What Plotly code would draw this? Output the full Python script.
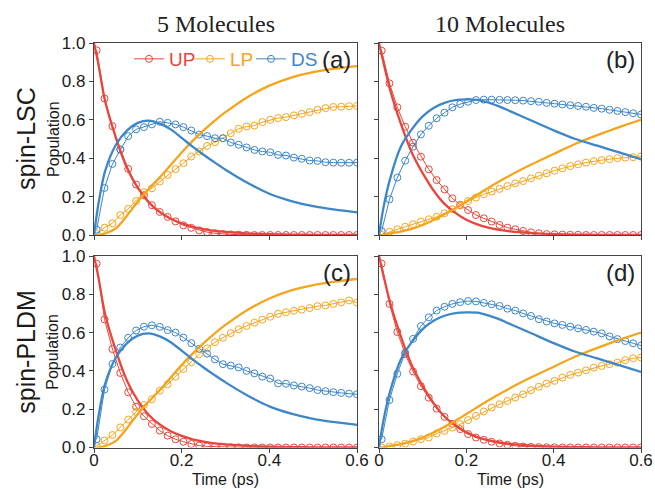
import numpy as np
import plotly.graph_objects as go

# ---------------- data ----------------
# exact (reference) results, solid lines
t_ref = [0, 0.01, 0.025, 0.05, 0.075, 0.1, 0.125, 0.15, 0.175, 0.2, 0.225, 0.25,
         0.275, 0.3, 0.35, 0.4, 0.45, 0.5, 0.55, 0.6]
ref5_UP = [1.0, 0.89, 0.70, 0.506, 0.35, 0.245, 0.17, 0.12, 0.085, 0.061, 0.043, 0.031,
           0.022, 0.016, 0.008, 0.004, 0.002, 0.001, 0.0, 0.0]
ref5_LP = [0.0, 0.0, 0.008, 0.035, 0.1, 0.175, 0.24, 0.3, 0.365, 0.43, 0.49, 0.545,
           0.595, 0.64, 0.718, 0.778, 0.82, 0.848, 0.866, 0.88]
ref5_DS = [0.0, 0.16, 0.33, 0.47, 0.544, 0.584, 0.596, 0.58, 0.55, 0.506, 0.46, 0.418,
           0.378, 0.34, 0.272, 0.215, 0.177, 0.15, 0.132, 0.118]
ref10_UP = [1.0, 0.9, 0.76, 0.58, 0.43, 0.322, 0.232, 0.162, 0.115, 0.079, 0.055, 0.038,
            0.027, 0.019, 0.01, 0.005, 0.002, 0.001, 0.0, 0.0]
ref10_LP = [0.0, 0.0, 0.008, 0.018, 0.032, 0.052, 0.078, 0.108, 0.14, 0.175, 0.21, 0.245,
            0.278, 0.31, 0.368, 0.422, 0.475, 0.52, 0.562, 0.6]
ref10_DS = [0.0, 0.14, 0.29, 0.46, 0.55, 0.618, 0.662, 0.688, 0.702, 0.706, 0.704, 0.69,
            0.67, 0.645, 0.595, 0.545, 0.5, 0.465, 0.43, 0.395]

# approximate (spin-mapping) results, circles
t_dot = np.linspace(0.006, 0.6, 34)
lsc5_UP = [0.962, 0.711, 0.567, 0.445, 0.344, 0.263, 0.207, 0.155, 0.12, 0.094,
           0.071, 0.05, 0.037, 0.024, 0.015, 0.009, 0.005, 0.003, 0.002, 0.001,
           0.0, 0.0, 0.0, 0.0, 0.0, 0.0, 0.0, 0.0, 0.0, 0.0, 0.0, 0.0, 0.0, 0.0]
lsc5_LP = [0.005, 0.038, 0.061, 0.104, 0.136, 0.177, 0.223, 0.243, 0.278, 0.313,
           0.343, 0.374, 0.409, 0.435, 0.464, 0.483, 0.504, 0.53, 0.553, 0.565,
           0.57, 0.588, 0.6, 0.609, 0.614, 0.623, 0.631, 0.64, 0.652, 0.661,
           0.667, 0.668, 0.671, 0.672]
lsc5_DS = [0.028, 0.245, 0.37, 0.445, 0.515, 0.55, 0.562, 0.576, 0.59, 0.584,
           0.576, 0.562, 0.544, 0.523, 0.515, 0.504, 0.504, 0.482, 0.47, 0.456,
           0.443, 0.435, 0.431, 0.417, 0.414, 0.403, 0.397, 0.388, 0.386, 0.379,
           0.377, 0.376, 0.376, 0.377]
lsc10_UP = [0.96, 0.79, 0.665, 0.564, 0.481, 0.408, 0.342, 0.286, 0.238, 0.191,
            0.157, 0.13, 0.104, 0.087, 0.07, 0.052, 0.038, 0.03, 0.021, 0.014,
            0.009, 0.005, 0.003, 0.002, 0.001, 0.001, 0.0, 0.0, 0.0, 0.0,
            0.0, 0.0, 0.0, 0.0]
lsc10_LP = [0.0, 0.017, 0.03, 0.043, 0.056, 0.07, 0.082, 0.095, 0.113, 0.134,
            0.153, 0.177, 0.195, 0.212, 0.226, 0.24, 0.255, 0.269, 0.281, 0.295,
            0.309, 0.321, 0.335, 0.347, 0.359, 0.368, 0.377, 0.385, 0.39, 0.395,
            0.4, 0.403, 0.405, 0.408]
lsc10_DS = [0.02, 0.186, 0.299, 0.387, 0.46, 0.524, 0.569, 0.608, 0.637, 0.665,
            0.682, 0.694, 0.703, 0.705, 0.705, 0.704, 0.703, 0.702, 0.7, 0.697,
            0.694, 0.688, 0.684, 0.68, 0.676, 0.672, 0.668, 0.662, 0.658, 0.652,
            0.646, 0.64, 0.634, 0.628]
pldm5_UP = [0.96, 0.669, 0.514, 0.389, 0.288, 0.213, 0.163, 0.123, 0.088, 0.062,
            0.043, 0.03, 0.018, 0.01, 0.006, 0.004, 0.002, 0.001, 0.001, 0.0,
            0.0, 0.0, 0.0, 0.0, 0.0, 0.0, 0.0, 0.0, 0.0, 0.0, 0.0, 0.0, 0.0, 0.0]
pldm5_LP = [0.008, 0.037, 0.065, 0.105, 0.146, 0.186, 0.222, 0.252, 0.296, 0.33,
            0.37, 0.41, 0.445, 0.487, 0.518, 0.55, 0.573, 0.597, 0.617, 0.635,
            0.652, 0.668, 0.683, 0.698, 0.706, 0.714, 0.72, 0.728, 0.738, 0.742,
            0.75, 0.758, 0.768, 0.757]
pldm5_DS = [0.043, 0.303, 0.436, 0.522, 0.573, 0.611, 0.631, 0.638, 0.63, 0.613,
            0.6, 0.574, 0.545, 0.515, 0.49, 0.46, 0.435, 0.428, 0.418, 0.4,
            0.387, 0.37, 0.36, 0.335, 0.333, 0.324, 0.318, 0.31, 0.3, 0.294,
            0.289, 0.285, 0.281, 0.278]
pldm10_UP = [0.96, 0.75, 0.603, 0.488, 0.397, 0.32, 0.26, 0.203, 0.16, 0.124,
             0.096, 0.07, 0.052, 0.04, 0.03, 0.021, 0.014, 0.009, 0.005, 0.003,
             0.002, 0.001, 0.001, 0.0, 0.0, 0.0, 0.0, 0.0, 0.0, 0.0,
             0.0, 0.0, 0.0, 0.0]
pldm10_LP = [0.0, 0.005, 0.012, 0.02, 0.031, 0.043, 0.052, 0.073, 0.087, 0.104,
             0.122, 0.143, 0.165, 0.188, 0.209, 0.226, 0.243, 0.261, 0.278, 0.299,
             0.317, 0.334, 0.348, 0.365, 0.379, 0.391, 0.403, 0.417, 0.426, 0.435,
             0.443, 0.456, 0.466, 0.47]
pldm10_DS = [0.043, 0.248, 0.385, 0.495, 0.567, 0.634, 0.68, 0.715, 0.735, 0.75,
             0.759, 0.765, 0.763, 0.755, 0.748, 0.739, 0.725, 0.715, 0.7, 0.687,
             0.67, 0.658, 0.648, 0.64, 0.631, 0.622, 0.614, 0.605, 0.596, 0.58,
             0.566, 0.556, 0.544, 0.532]

states = ["UP", "LP", "DS"]
col_titles = ["5 Molecules", "10 Molecules"]
row_titles = ["spin-LSC", "spin-PLDM"]
panel_labels = ["(a)", "(b)", "(c)", "(d)"]
x_ticks = [0, 0.2, 0.4, 0.6]
x_ticklabels = ["0", "0.2", "0.4", "0.6"]
y_ticks = [0, 0.2, 0.4, 0.6, 0.8, 1.0]
y_ticklabels = ["0.0", "0.2", "0.4", "0.6", "0.8", "1.0"]

# ---------------- style ----------------
colors = {"UP": "#E8463C", "LP": "#F4A51E", "DS": "#3D86C8"}
W, H = 655, 489
xdom = [(94 / W, 357 / W), (379 / W, 641 / W)]
ydom = [(1 - 235 / H, 1 - 43 / H), (1 - 447.5 / H, 1 - 256 / H)]
SANS = "Liberation Sans, Arial, Helvetica, sans-serif"
SERIF = "Liberation Serif, Times New Roman, serif"

panels = [
    (0, 0, (ref5_UP, ref5_LP, ref5_DS), (lsc5_UP, lsc5_LP, lsc5_DS)),
    (0, 1, (ref10_UP, ref10_LP, ref10_DS), (lsc10_UP, lsc10_LP, lsc10_DS)),
    (1, 0, (ref5_UP, ref5_LP, ref5_DS), (pldm5_UP, pldm5_LP, pldm5_DS)),
    (1, 1, (ref10_UP, ref10_LP, ref10_DS), (pldm10_UP, pldm10_LP, pldm10_DS)),
]

fig = go.Figure()
layout = dict(
    width=W, height=H, autosize=False,
    margin=dict(l=0, r=0, t=0, b=0, pad=0, autoexpand=False),
    paper_bgcolor="white", plot_bgcolor="white",
    font=dict(family=SANS, size=17, color="#1a1a1a"),
    showlegend=True,
)

annotations = []
for k, (r, c, ref, dots) in enumerate(panels):
    ax = "" if k == 0 else str(k + 1)
    xa, ya = "x" + ax, "y" + ax
    for s, ydot in zip(states, dots):
        fig.add_trace(go.Scatter(
            x=t_dot, y=ydot, xaxis=xa, yaxis=ya, mode="lines+markers",
            line=dict(color=colors[s], width=1),
            marker=dict(symbol="circle-open", size=7, color=colors[s],
                        line=dict(width=1, color=colors[s])),
            name=f"<span style='color:{colors[s]}'>{s}</span>",
            showlegend=(k == 0), legendgroup=s,
        ))
    for s, yref_vals in zip(states, ref):
        fig.add_trace(go.Scatter(
            x=t_ref, y=yref_vals, xaxis=xa, yaxis=ya, mode="lines",
            line=dict(color=colors[s], width=2.3, shape="spline", smoothing=0.8),
            showlegend=False, hoverinfo="skip",
        ))
    axis_common = dict(
        showline=True, mirror=True, linecolor="#444", linewidth=1.2,
        ticks="outside", ticklen=4, tickcolor="#444", showgrid=False,
        zeroline=False, automargin=False,
        tickfont=dict(size=17, family=SANS, color="#1a1a1a"),
    )
    layout["xaxis" + ax] = dict(
        axis_common, domain=xdom[c], range=[0, 0.6], anchor=ya,
        tickvals=x_ticks, ticktext=x_ticklabels, showticklabels=(r == 1),
        ticklabelstandoff=-7,
    )
    layout["yaxis" + ax] = dict(
        axis_common, domain=ydom[r], range=[0, 1.0], anchor=xa,
        tickvals=y_ticks, ticktext=y_ticklabels, showticklabels=(c == 0),
    )
    annotations.append(dict(
        text=panel_labels[k], xref=xa + " domain", yref=ya + " domain",
        x=0.985, y=0.995, xanchor="right", yanchor="top", showarrow=False,
        font=dict(size=24, family=SANS, color="#222"),
    ))

# invisible spacer legend entry so the last legend label is not clipped
fig.add_trace(go.Scatter(
    x=[None], y=[None], mode="markers", marker=dict(opacity=0), name=" ",
    visible="legendonly", showlegend=True, hoverinfo="skip",
))

for c, title in enumerate(col_titles):
    annotations.append(dict(
        text=title, xref="paper", yref="paper",
        x=(xdom[c][0] + xdom[c][1]) / 2 - 10 / W, y=1 - 24 / H,
        xanchor="center", yanchor="middle", showarrow=False,
        font=dict(size=24, family=SERIF, color="#222"),
    ))
for r, title in enumerate(row_titles):
    yc = (ydom[r][0] + ydom[r][1]) / 2
    annotations.append(dict(
        text=title, xref="paper", yref="paper", x=26 / W, y=yc,
        xanchor="center", yanchor="middle", textangle=-90, showarrow=False,
        font=dict(size=25, family=SANS, color="#1a1a1a"),
    ))
    annotations.append(dict(
        text="Population", xref="paper", yref="paper", x=53 / W, y=yc,
        xanchor="center", yanchor="middle", textangle=-90, showarrow=False,
        font=dict(size=16, family=SANS, color="#1a1a1a"),
    ))
for c in range(2):
    annotations.append(dict(
        text="Time (ps)", xref="paper", yref="paper",
        x=(xdom[c][0] + xdom[c][1]) / 2, y=1 - 479 / H,
        xanchor="center", yanchor="middle", showarrow=False,
        font=dict(size=16, family=SANS, color="#1a1a1a"),
    ))

layout["annotations"] = annotations
layout["legend"] = dict(
    orientation="h", x=129 / W, y=1 - 40 / H, xanchor="left", yanchor="top",
    bgcolor="rgba(0,0,0,0)", font=dict(size=19, family=SANS),
    itemwidth=30, entrywidth=16, entrywidthmode="pixels", tracegroupgap=0,
)
fig.update_layout(**layout)
fig.write_html(
    "out.html",
    post_script="document.body.style.margin='0';document.body.style.overflow='hidden';",
)
